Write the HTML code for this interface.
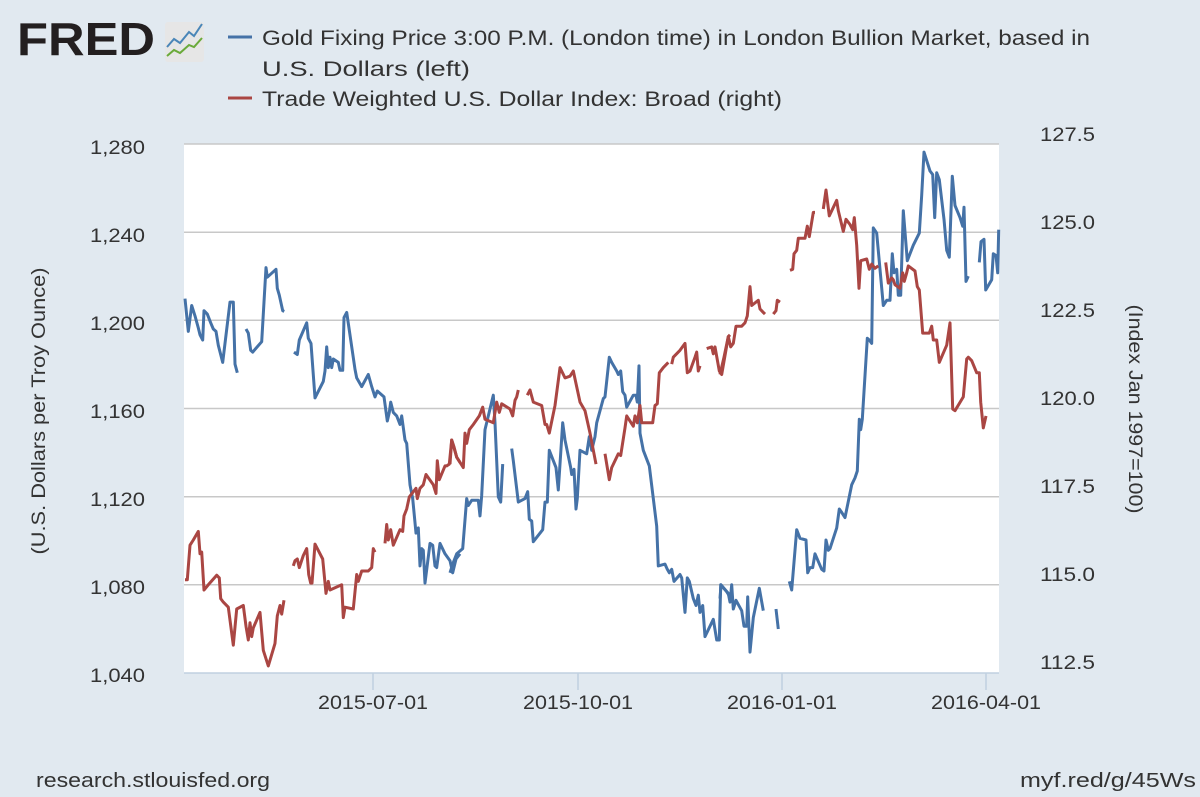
<!DOCTYPE html>
<html><head><meta charset="utf-8"><style>
body{margin:0;background:#e1e9f0;}
svg{display:block;font-family:"Liberation Sans","DejaVu Sans",sans-serif;}
</style></head><body>
<svg id="s" width="1200" height="797" viewBox="0 0 1200 797" xmlns="http://www.w3.org/2000/svg">
<rect width="1200" height="797" fill="#e1e9f0"/>
<text x="17" y="55" font-size="46" font-weight="bold" fill="#231f20" textLength="138" lengthAdjust="spacingAndGlyphs">FRED</text>
<rect x="165" y="22" width="39" height="40" rx="3" fill="#e6e6e6"/>
<polyline points="167,47 174,39 180,43 189,32 194,36 202,24" fill="none" stroke="#4a86b8" stroke-width="2"/>
<polyline points="167,56 174,50 180,53 189,45 194,47 202,38" fill="none" stroke="#6aaa3a" stroke-width="2"/>
<line x1="228" y1="37" x2="252" y2="37" stroke="#4572a7" stroke-width="3"/>
<line x1="228" y1="98" x2="252" y2="98" stroke="#aa4643" stroke-width="3"/>
<g font-size="21" fill="#333" lengthAdjust="spacingAndGlyphs">
<text x="262" y="45" textLength="828" lengthAdjust="spacingAndGlyphs">Gold Fixing Price 3:00 P.M. (London time) in London Bullion Market, based in</text>
<text x="262" y="76" textLength="208" lengthAdjust="spacingAndGlyphs">U.S. Dollars (left)</text>
<text x="262" y="106" textLength="520" lengthAdjust="spacingAndGlyphs">Trade Weighted U.S. Dollar Index: Broad (right)</text>
</g>
<rect x="184" y="144" width="815" height="529" fill="#fff"/>
<g stroke="#c8c8c8" stroke-width="1.5">
<line x1="184" y1="144" x2="999" y2="144"/>
<line x1="184" y1="232.2" x2="999" y2="232.2"/>
<line x1="184" y1="320.3" x2="999" y2="320.3"/>
<line x1="184" y1="408.5" x2="999" y2="408.5"/>
<line x1="184" y1="496.7" x2="999" y2="496.7"/>
<line x1="184" y1="584.8" x2="999" y2="584.8"/>
</g>
<line x1="184" y1="673" x2="999" y2="673" stroke="#c0d0e0" stroke-width="1.5"/>
<g stroke="#c0d0e0" stroke-width="1.5">
<line x1="373" y1="673" x2="373" y2="690"/><line x1="578" y1="673" x2="578" y2="690"/>
<line x1="782" y1="673" x2="782" y2="690"/><line x1="986" y1="673" x2="986" y2="690"/>
</g>
<g font-size="19" fill="#333">
<text x="90" y="154" textLength="55" lengthAdjust="spacingAndGlyphs">1,280</text>
<text x="90" y="242" textLength="55" lengthAdjust="spacingAndGlyphs">1,240</text>
<text x="90" y="330" textLength="55" lengthAdjust="spacingAndGlyphs">1,200</text>
<text x="90" y="418" textLength="55" lengthAdjust="spacingAndGlyphs">1,160</text>
<text x="90" y="506" textLength="55" lengthAdjust="spacingAndGlyphs">1,120</text>
<text x="90" y="594" textLength="55" lengthAdjust="spacingAndGlyphs">1,080</text>
<text x="90" y="682" textLength="55" lengthAdjust="spacingAndGlyphs">1,040</text>
</g>
<g font-size="19" fill="#333">
<text x="1040" y="141" textLength="55" lengthAdjust="spacingAndGlyphs">127.5</text>
<text x="1040" y="229" textLength="55" lengthAdjust="spacingAndGlyphs">125.0</text>
<text x="1040" y="317" textLength="55" lengthAdjust="spacingAndGlyphs">122.5</text>
<text x="1040" y="405" textLength="55" lengthAdjust="spacingAndGlyphs">120.0</text>
<text x="1040" y="493" textLength="55" lengthAdjust="spacingAndGlyphs">117.5</text>
<text x="1040" y="581" textLength="55" lengthAdjust="spacingAndGlyphs">115.0</text>
<text x="1040" y="669" textLength="55" lengthAdjust="spacingAndGlyphs">112.5</text>
</g>
<g font-size="19" fill="#333">
<text x="318" y="709" textLength="110" lengthAdjust="spacingAndGlyphs">2015-07-01</text>
<text x="523" y="709" textLength="110" lengthAdjust="spacingAndGlyphs">2015-10-01</text>
<text x="727" y="709" textLength="110" lengthAdjust="spacingAndGlyphs">2016-01-01</text>
<text x="931" y="709" textLength="110" lengthAdjust="spacingAndGlyphs">2016-04-01</text>
</g>
<text transform="translate(45,411) rotate(-90)" font-size="19" fill="#333" text-anchor="middle" textLength="287" lengthAdjust="spacingAndGlyphs">(U.S. Dollars per Troy Ounce)</text>
<text transform="translate(1129,409) rotate(90)" font-size="19" fill="#333" text-anchor="middle" textLength="209" lengthAdjust="spacingAndGlyphs">(Index Jan 1997=100)</text>
<text x="36" y="787" font-size="20" fill="#333" textLength="234" lengthAdjust="spacingAndGlyphs">research.stlouisfed.org</text>
<text x="1020" y="787" font-size="20" fill="#333" textLength="176" lengthAdjust="spacingAndGlyphs">myf.red/g/45Ws</text>
<g id="lines" fill="none" stroke-width="3" stroke-linejoin="round"></g>
</svg>
<script>
var blue=[
[180,[[15,460,25,555,35,480,45,510,55,545,60,565,68,580,72,495,82,505,92,530,100,548,108,555,115,595,128,645,150,470,160,470,165,650,172,675],
[198,548,205,560,212,610,218,615,245,585,258,370,262,398,288,375,292,430,298,450,308,495,313,497],
[342,615,352,622,358,580,380,530,385,575,393,590,405,748,430,700,435,670,440,600,445,660,450,630,455,660,460,635,475,645,480,668,488,668,492,515,500,500,525,665,530,690,545,715,565,680,575,715,585,745,592,728,612,745,622,815,628,790,632,760,640,790,650,800,660,825,665,800,675,870,680,880,690,1000,698,1040,708,1140,715,1125,720,1235,725,1185,730,1190,735,1285,750,1170,758,1175,765,1235,770,1240,780,1170,795,1200,810,1220,818,1255,828,1215,840,1200]]],
[450,[[0,1255,8,1230,20,1200,38,1185,50,1040,55,1060,65,1045,85,1045,90,1090,95,1030,105,840,130,740,135,820,145,1035,152,1050,158,940],
[185,895,190,930,205,1050,225,1040,233,1020,238,1100,245,1105,250,1165,278,1130,285,1050,292,1050,298,900,318,950,325,1015,338,820,345,870,362,950,365,970,372,955,378,1070,382,1040,390,900,410,910,418,860,425,900,435,860,440,820,460,750,465,745,478,630,485,645,500,670,505,680,512,670,518,730,525,740,530,775,550,740,558,740,562,760,567,655,570,850,580,900,598,945,620,1120,625,1235,645,1230,652,1245,658,1255,665,1245,672,1280,690,1260,695,1270,705,1370,712,1270,718,1280,730,1330,738,1350,745,1320,750,1370,758,1350,765,1440,790,1390,800,1450,808,1450,812,1290,830,1310,840,1325]]],
[720,[[0,1330,3,1290,25,1315,30,1340,35,1290,40,1360,48,1335,65,1365,72,1410,80,1410,83,1325,90,1485,100,1385,118,1300,130,1365],
[168,1360,175,1418],
[208,1280,215,1305,230,1130,240,1155,258,1160,263,1255,270,1240,278,1240,285,1200,305,1245,312,1250,318,1160,325,1190,330,1185,350,1125,358,1070,365,1080,375,1095,395,1000,405,980,412,960,418,810,422,840,427,810,442,575,448,580,455,590,460,255,470,270,490,480,500,465,510,465,517,330,522,385,530,375,535,450,542,450,550,205,562,350,580,305,598,270,605,160,612,35,630,90,638,100,644,225,650,95,658,115,672,230,680,320,688,340,697,105,705,190,720,225,728,250,732,195,738,410,745,395],
[778,355,783,295,792,288,797,435,815,405,820,330,828,335,833,385,836,260]]]];
var red=[
[180,[[15,1275,22,1275,30,1175,40,1160,55,1135,60,1200,65,1195,72,1305,85,1290,110,1262,118,1270,122,1330,130,1340,145,1355,160,1465,170,1360,190,1350,198,1410,205,1450,210,1400,215,1440,220,1415,240,1370,250,1480,265,1525,285,1460,292,1380,300,1350,305,1375,312,1335],
[340,1235,345,1220,352,1215,358,1240,370,1205,380,1185,386,1260,392,1285,396,1285,405,1172,428,1215,438,1315,445,1280,450,1305,485,1290,490,1385,495,1355,520,1360,530,1260,535,1280,545,1250,565,1250,575,1240,580,1185,585,1195],
[615,1170,620,1115,625,1160,632,1130,640,1175,660,1130,668,1135,672,1090,680,1070,688,1035,708,1010,712,1040,720,1010,730,1000,738,970,760,1000,768,1025,772,930,778,985,795,945,800,945,808,940,815,870,830,920,840,935]]],
[450,[[0,940,5,870,12,890,20,920,40,950,45,850,50,880,58,840,70,825,88,800,98,775,105,810,130,820,140,760,148,790,155,765,180,780,188,800,195,755,200,745,205,725],
[232,740,240,725,250,760,275,770,285,825,290,825,298,850,315,770,330,660,345,690,360,685,370,670,390,760,405,785,420,850,438,940],
[465,910,478,985,485,950,505,910,512,915,525,835,530,800,550,830,555,800,562,820,570,770,575,820,608,820,615,770,622,765,628,675,640,660,655,645],
[665,650,670,630,690,610,705,590,712,675,720,670,735,630,740,615,745,670,750,655],
[770,605,785,600,790,620,795,600,808,670,815,680,835,570,840,565]]],
[720,[[0,680,12,630,25,570,32,600,40,590,48,540,65,540,75,530,82,510,90,425,95,480,115,465,120,490,130,500,135,505],
[160,505,168,495,172,465,180,470],
[210,378,218,375,222,330,230,320,235,285,255,285,262,250,268,280,280,210,285,210],
[310,200,318,145,328,220,350,175,355,205,370,265,378,230,390,245,398,260,403,225,410,305,417,430,422,350,440,345,448,375,455,360,465,372,475,365],
[497,355,505,415,515,400,520,405,525,420,540,430,548,385,553,410,560,385,565,365,585,380,592,425,598,435,608,560,628,560,635,540,640,580,650,580,658,645,680,595,690,530,698,780,705,785,730,745,740,635,745,630,755,640,770,675,778,675,782,760,790,835,798,800]]]];
var g=document.getElementById('lines'),NS='http://www.w3.org/2000/svg';
function draw(set,col){set.forEach(function(b){var x0=b[0];b[1].forEach(function(a){var p=[];for(var i=0;i<a.length;i+=2)p.push((x0+a[i]/3).toFixed(1)+','+(140+a[i+1]/2.9).toFixed(1));var e=document.createElementNS(NS,'polyline');e.setAttribute('points',p.join(' '));e.setAttribute('stroke',col);g.appendChild(e);});});}
draw(blue,'#4572a7');draw(red,'#aa4643');
</script>
</body></html>
